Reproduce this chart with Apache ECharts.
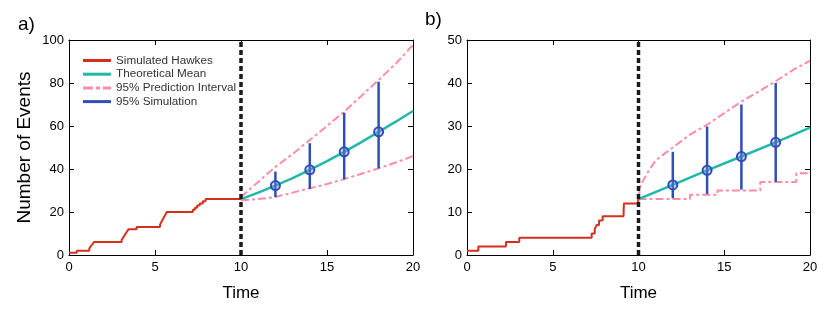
<!DOCTYPE html>
<html><head><meta charset="utf-8">
<script src="https://cdn.jsdelivr.net/npm/echarts@6/dist/echarts.min.js"></script>
<style>html,body{margin:0;padding:0;background:#fff}#c{width:830px;height:311px}</style>
</head><body><div id="c"></div>
<script>
// ---------- data ----------
const xTicks = [0, 5, 10, 15, 20];
const yTicksA = [0, 20, 40, 60, 80, 100];
const yTicksB = [0, 10, 20, 30, 40, 50];
const splitTime = 10;

// panel a
const hawkesA_t = [0,0.45,1.18,1.26,1.36,1.45,3.06,3.14,3.22,3.3,3.38,3.46,3.93,5.29,5.35,5.41,5.48,5.55,5.62,5.68,7.2,7.32,7.45,7.6,7.78,7.94,10];
const hawkesA_n = [1,2,3,4,5,6,7,8,9,10,11,12,13,14,15,16,17,18,19,20,21,22,23,24,25,26,26];
const predA_t  = [10,11,12,13,14,15,16,17,18,19,20];
const meanA    = [26,29,32.3,35.8,39.6,43.7,48,52.5,57.3,62,67];
const upperA   = [27,34,41,47,53.5,60,66.7,74,81.4,89,97.7];
const lowerA   = [25.5,26,27,29,31,33,35.3,37.8,40.3,43,46];
const simA_t   = [12,14,16,18];
const simA_lo  = [27,30.7,35.2,40.3];
const simA_hi  = [38.8,52,66.2,80.6];
const simA_mu  = [32.3,39.6,48,57.3];

// panel b
const hawkesB_t = [0,0.66,2.27,3.05,7.27,7.45,7.56,7.7,7.91,9.13,9.14,9.15,9.98,10];
const hawkesB_n = [1,2,3,4,5,6,7,8,9,10,11,12,13,13];
const meanB_t  = [10,12,14,16,18,20];
const meanB    = [13,16.3,19.7,22.9,26.2,29.6];
const upperB_t = [10,10.1,10.5,11,12,13,14,15,16,17,18,19,20];
const upperB   = [13,16,19,22,25,28,30.3,33,35.7,38,40.4,43,45.2];
const lowerB_t = [10,13,14.6,17.1,19.2,20];
const lowerB   = [13,14,15,17,19,19];
const simB_t   = [12,14,16,18];
const simB_lo  = [13.2,14.2,15.2,17];
const simB_hi  = [24,29.9,35,40];
const simB_mu  = [16.3,19.7,22.9,26.2];

const legendNames = ['Simulated Hawkes','Theoretical Mean','95% Prediction Interval','95% Simulation'];

// ---------- styles ----------
const RED='#d4301e', TEAL='#22b8a8', PINK='#ff8ca8', BLUE='#2f4fb6', BLACK='#1a1a1a';
const FONT='Liberation Sans';
const PINK_DASH=[8,3,3,3];
const zip=(a,b)=>a.map((v,i)=>[v,b[i]]);

function axesFor(yTicks, yName){
  const ymax=yTicks[yTicks.length-1], yint=yTicks[1]-yTicks[0];
  const common=()=>({type:'value',min:0,splitLine:{show:false},
    axisLine:{show:true,onZero:false,lineStyle:{color:'#000',width:1}},
    axisTick:{show:true,inside:true,length:5,lineStyle:{color:'#000'}}});
  return {
    x:[Object.assign(common(),{max:20,interval:5,position:'bottom',
        axisLabel:{color:'#000',fontFamily:FONT,fontSize:13,margin:6},
        name:'Time',nameLocation:'middle',nameGap:30,
        nameTextStyle:{color:'#000',fontFamily:FONT,fontSize:17}}),
       Object.assign(common(),{max:20,interval:5,position:'top',axisLabel:{show:false}})],
    y:[Object.assign(common(),{max:ymax,interval:yint,position:'left',
        axisLabel:{color:'#000',fontFamily:FONT,fontSize:13,margin:5},
        name:yName,nameLocation:'middle',nameGap:35,
        nameTextStyle:{color:'#000',fontFamily:FONT,fontSize:19}}),
       Object.assign(common(),{max:ymax,interval:yint,position:'right',axisLabel:{show:false}})]
  };
}
const axA=axesFor(yTicksA,'Number of Events');
const axB=axesFor(yTicksB,'');

function simRender(){
  return function(params,api){
    const t=api.value(0);
    const p1=api.coord([t,api.value(1)]), p2=api.coord([t,api.value(2)]), pm=api.coord([t,api.value(3)]);
    return {type:'group',children:[
      {type:'line',shape:{x1:p1[0],y1:p1[1],x2:p2[0],y2:p2[1]},style:{stroke:BLUE,lineWidth:2.5}},
      {type:'circle',shape:{cx:pm[0],cy:pm[1],r:4.5},style:{stroke:BLUE,lineWidth:2,fill:'rgba(120,150,230,0.35)'}}
    ]};
  };
}

function panelSeries(xi,yi,h_t,h_n,mean,up,low,sim,ymax){
  return [
    {name:'95% Prediction Interval',type:'line',xAxisIndex:xi,yAxisIndex:yi,data:up,showSymbol:false,symbol:'none',
      lineStyle:{color:PINK,width:2,type:PINK_DASH},itemStyle:{color:PINK},z:2},
    {name:'95% Prediction Interval',type:'line',xAxisIndex:xi,yAxisIndex:yi,data:low.data,step:low.step,showSymbol:false,symbol:'none',
      lineStyle:{color:PINK,width:2,type:PINK_DASH},itemStyle:{color:PINK},z:2},
    {name:'Theoretical Mean',type:'line',xAxisIndex:xi,yAxisIndex:yi,data:mean,showSymbol:false,symbol:'none',
      lineStyle:{color:TEAL,width:2.5},itemStyle:{color:TEAL},z:3},
    {name:'Simulated Hawkes',type:'line',xAxisIndex:xi,yAxisIndex:yi,data:zip(h_t,h_n),step:'end',showSymbol:false,symbol:'none',
      lineStyle:{color:RED,width:2},itemStyle:{color:RED},z:3},
    {name:'sim',type:'custom',xAxisIndex:xi,yAxisIndex:yi,data:sim,renderItem:simRender(),z:4},
    {name:'95% Simulation',type:'line',xAxisIndex:xi,yAxisIndex:yi,data:[],symbol:'none',
      lineStyle:{color:BLUE,width:3},itemStyle:{color:BLUE}},
    {name:'split',type:'line',xAxisIndex:xi,yAxisIndex:yi,data:[[splitTime,0],[splitTime,ymax]],showSymbol:false,symbol:'none',
      lineStyle:{color:BLACK,width:3.5,type:[5,3]},z:6}
  ];
}

const simA=simA_t.map((t,i)=>[t,simA_lo[i],simA_hi[i],simA_mu[i]]);
const simB=simB_t.map((t,i)=>[t,simB_lo[i],simB_hi[i],simB_mu[i]]);

const SOLID_ICON='path://M0,0h28v3h-28z';
const DASH_ICON='path://M0,0h10v3h-10z M13,0h4v3h-4z M20,0h8v3h-8z';

const option={
  animation:false,
  textStyle:{fontFamily:FONT},
  grid:[{left:69,top:40,width:344,height:215},{left:467,top:40,width:343,height:215}],
  xAxis:[...axA.x.map(a=>Object.assign(a,{gridIndex:0})),...axB.x.map(a=>Object.assign(a,{gridIndex:1}))],
  yAxis:[...axA.y.map(a=>Object.assign(a,{gridIndex:0})),...axB.y.map(a=>Object.assign(a,{gridIndex:1}))],
  legend:{left:83,top:54,orient:'vertical',itemGap:0.7,itemWidth:28,itemHeight:3,padding:0,
    data:legendNames.map(n=>({name:n,icon:n==='95% Prediction Interval'?DASH_ICON:SOLID_ICON})),
    textStyle:{fontFamily:FONT,fontSize:11.7,color:'#333',lineHeight:13,padding:[0,0,0,0]}},
  graphic:[
    {type:'text',left:18,top:15,style:{text:'a)',font:'19px '+FONT,fill:'#000'}},
    {type:'text',left:425,top:10,style:{text:'b)',font:'19px '+FONT,fill:'#000'}}
  ],
  series:[
    ...panelSeries(0,0,hawkesA_t,hawkesA_n,zip(predA_t,meanA),zip(predA_t,upperA),{data:zip(predA_t,lowerA),step:false},simA,100),
    ...panelSeries(2,2,hawkesB_t,hawkesB_n,zip(meanB_t,meanB),zip(upperB_t,upperB),{data:zip(lowerB_t,lowerB),step:'end'},simB,50)
  ]
};
echarts.init(document.getElementById('c'),null,{renderer:'canvas'}).setOption(option);
</script></body></html>
